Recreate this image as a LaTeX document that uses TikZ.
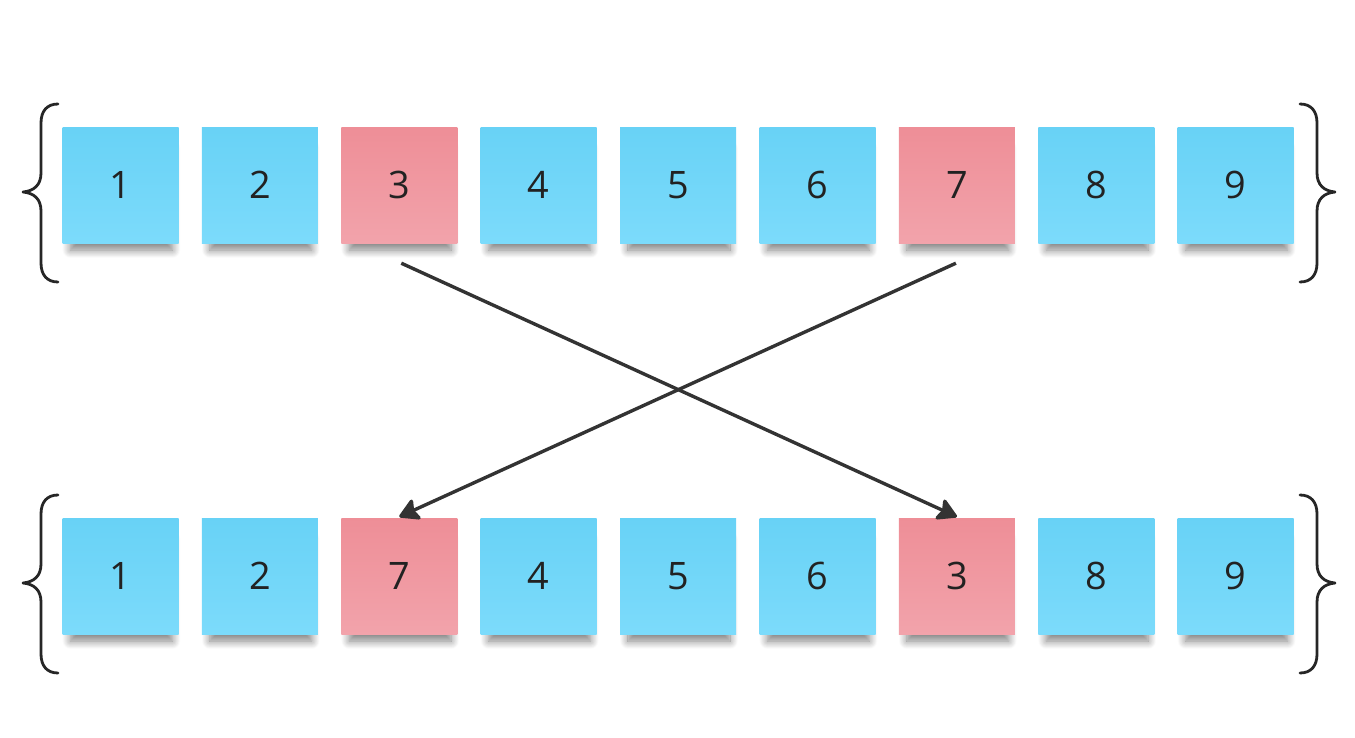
\documentclass[tikz,border=0pt]{standalone}
\usepackage{fontspec}
\setmainfont{Open Sans}
\usetikzlibrary{arrows.meta,calc,shadows.blur}

\definecolor{noteblueT}{HTML}{68D2F6}
\definecolor{noteblueB}{HTML}{7CDBFB}
\definecolor{notepinkT}{HTML}{EE8E97}
\definecolor{notepinkB}{HTML}{F2A3AB}
\definecolor{inkdark}{HTML}{333333}
\definecolor{digit}{HTML}{222222}

\tikzset{
  note/.style={rectangle, minimum width=116bp, minimum height=116bp, inner sep=0pt,
    font=\fontsize{38}{40}\selectfont, text=digit,
    blur shadow={shadow xshift=1bp, shadow yshift=-16bp, shadow scale=0.88,
      shadow opacity=50, shadow blur radius=9bp, shadow blur steps=12}},
  bluenote/.style={note, top color=noteblueT, bottom color=noteblueB},
  pinknote/.style={note, top color=notepinkT, bottom color=notepinkB},
  swaparrow/.style={draw=inkdark, line width=3.4bp,
    -{Stealth[inset=4bp, length=22bp, width=25bp, round]}},
  bracestroke/.style={draw=black!85, line width=2.8bp, line cap=round, line join=round},
  pics/curly/.style={code={
    \draw[bracestroke] (0,-88) .. controls (-11,-88) and (-17,-81) .. (-17,-69)
      -- (-17,-19) .. controls (-17,-7) and (-24,-1) .. (-35,0)
      .. controls (-24,1) and (-17,7) .. (-17,19)
      -- (-17,71) .. controls (-17,83) and (-11,90) .. (0,90);
  }}
}

\begin{document}
\begin{tikzpicture}[x=1bp,y=-1bp]
  \useasboundingbox (0,0) rectangle (1355,737);

  % top row: original order
  \foreach \i/\lab/\kind in {1/1/bluenote,2/2/bluenote,3/3/pinknote,4/4/bluenote,5/5/bluenote,
                             6/6/bluenote,7/7/pinknote,8/8/bluenote,9/9/bluenote}{
    \node[\kind] (t\i) at ({120.5+139.4*(\i-1)},185) {\lab};
  }
  % bottom row: 3 and 7 swapped
  \foreach \i/\lab/\kind in {1/1/bluenote,2/2/bluenote,3/7/pinknote,4/4/bluenote,5/5/bluenote,
                             6/6/bluenote,7/3/pinknote,8/8/bluenote,9/9/bluenote}{
    \node[\kind] (b\i) at ({120.5+139.4*(\i-1)},576) {\lab};
  }

  % braces around each row
  \pic at (58,192) {curly};
  \pic[xscale=-1] at (1300,192) {curly};
  \pic at (58,583) {curly};
  \pic[xscale=-1] at (1300,583) {curly};

  % swap arrows
  \coordinate (s3) at ($(t3.south)+(2,20)$);
  \coordinate (s7) at ($(t7.south)+(-1,20)$);
  \draw[swaparrow] (s3) -- ($(b7.north)+(0,-1)$);
  \draw[swaparrow] (s7) -- ($(b3.north)+(0,-1)$);
\end{tikzpicture}
\end{document}
